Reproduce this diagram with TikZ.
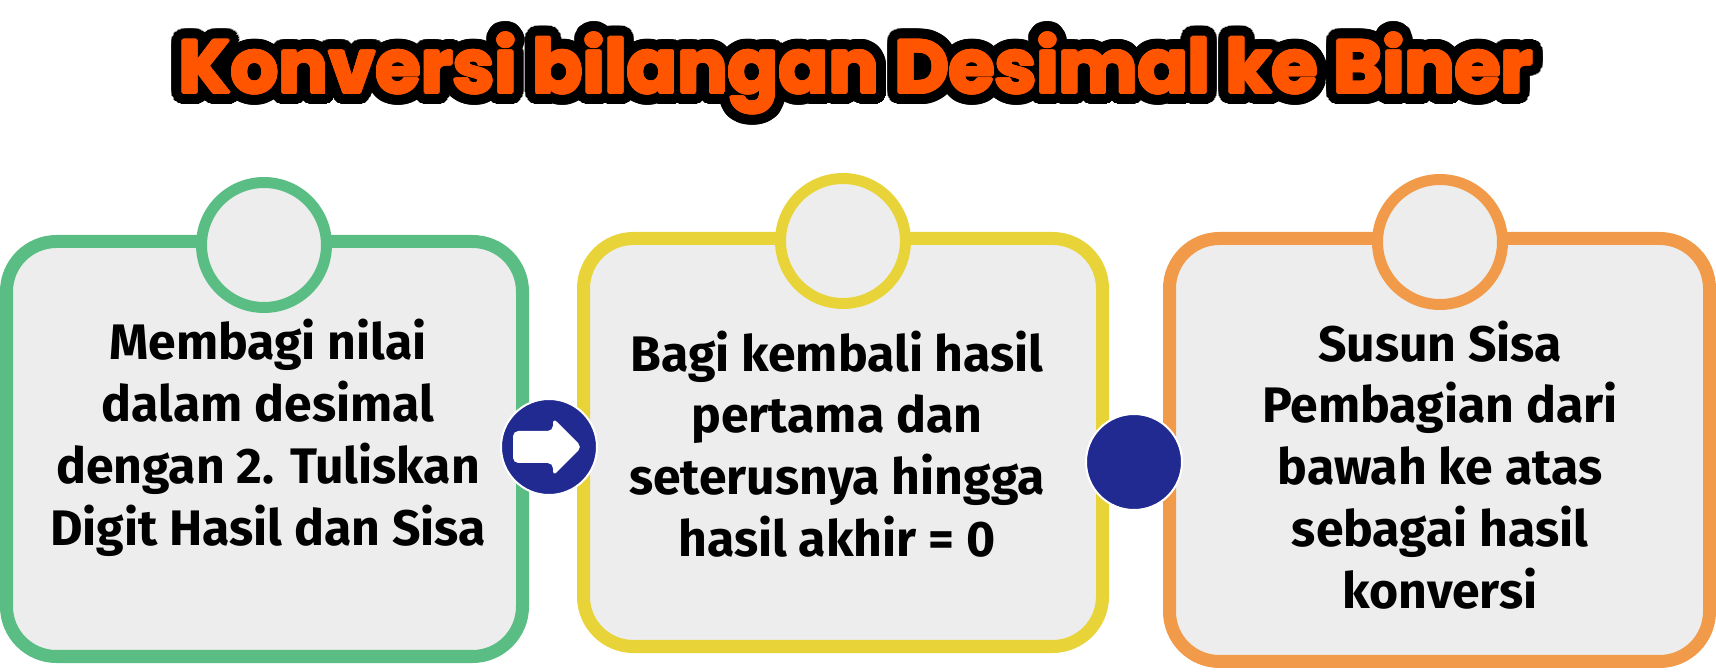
\documentclass[tikz,border=0pt]{standalone}
\usepackage{fontspec}
\setmainfont{Fira Sans}
\newfontfamily\judulfont{Poppins}
\usepackage[copies]{contour}
\usetikzlibrary{positioning}
\definecolor{rim_green}{RGB}{90,190,132}
\definecolor{rim_yellow}{RGB}{232,212,56}
\definecolor{rim_orange}{RGB}{241,155,74}
\definecolor{panel_gray}{RGB}{237,237,237}
\definecolor{dot_blue}{RGB}{32,42,145}
\definecolor{title_orange}{RGB}{255,85,0}
\newcommand{\langkah}{\bfseries\fontsize{14.2}{17.6}\selectfont}

\begin{document}
\begin{tikzpicture}
            \useasboundingbox (0,0) rectangle (17.16,6.72);
            % Title
            \node[anchor=base, font=\judulfont\bfseries\fontsize{21.2}{21.2}\selectfont] (judul) at (8.56,5.79) {%
                \contourlength{3.3pt}\contournumber{48}\contour{black}{Konversi bilangan Desimal ke Biner}};
            \node[anchor=base, font=\judulfont\bfseries\fontsize{21.2}{21.2}\selectfont, text=title_orange] (judulisi) at (8.56,5.79) {%
                \contourlength{0.4pt}\contour{title_orange}{Konversi bilangan Desimal ke Biner}};

            % Boxes
            \node[draw=rim_green, line width=0.13cm, fill=panel_gray, rounded corners=0.5cm, minimum width=5.16cm, minimum height=4.15cm] (kotak1) at (2.645,2.23) {};
            \node[draw=rim_yellow, line width=0.13cm, fill=panel_gray, rounded corners=0.5cm, minimum width=5.19cm, minimum height=4.08cm] (kotak2) at (8.43,2.295) {};
            \node[draw=rim_orange, line width=0.13cm, fill=panel_gray, rounded corners=0.5cm, minimum width=5.40cm, minimum height=4.23cm] (kotak3) at (14.395,2.22) {};

            % Top circles
            \node[circle, draw=rim_green, line width=0.11cm, fill=panel_gray, minimum size=1.25cm] (bulat1) at (2.64,4.27) {};
            \node[circle, draw=rim_yellow, line width=0.11cm, fill=panel_gray, minimum size=1.25cm] (bulat2) at (8.43,4.31) {};
            \node[circle, draw=rim_orange, line width=0.11cm, fill=panel_gray, minimum size=1.25cm] (bulat3) at (14.40,4.30) {};

            % Texts
            \node[align=center, font=\langkah] (teks1) at (2.68,2.34) {Membagi nilai\\dalam desimal\\dengan 2. Tuliskan\\Digit Hasil dan Sisa};
            \node[align=center, font=\langkah] (teks2) at (8.37,2.28) {Bagi kembali hasil\\pertama dan\\seterusnya hingga\\hasil akhir = 0};
            \node[align=center, font=\langkah] (teks3) at (14.40,2.07) {Susun Sisa\\Pembagian dari\\bawah ke atas\\sebagai hasil\\konversi};

            % Blue dots
            \node[circle, fill=dot_blue, draw=white, line width=0.02cm, minimum size=0.96cm] (panah) at (5.49,2.25) {};
            \fill[white, rounded corners=1.5pt] (panah.center) ++(-0.36,0.16) -- ++(0.40,0) -- ++(0,0.13) -- ++(0.29,-0.29) -- ++(-0.29,-0.29) -- ++(0,0.13) -- ++(-0.40,0) -- cycle;
            \node[circle, fill=dot_blue, draw=white, line width=0.02cm, minimum size=0.96cm] (titik) at (11.34,2.10) {};
        \end{tikzpicture}
\end{document}
